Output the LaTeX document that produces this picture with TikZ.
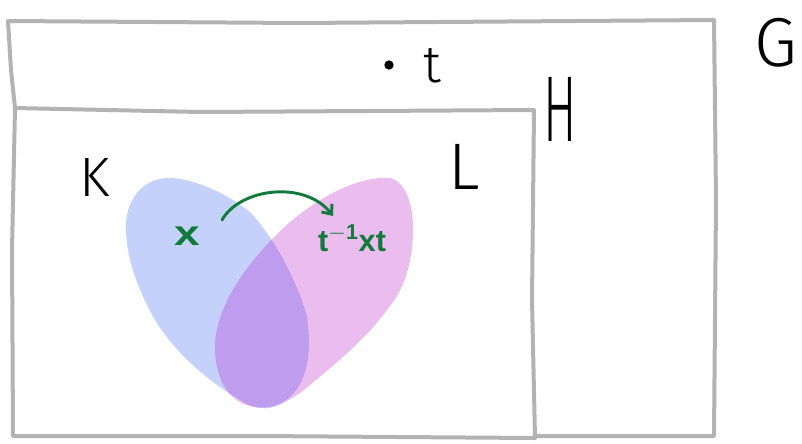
\documentclass[tikz,border=0pt]{standalone}
\usepackage{fontspec}
\setmainfont{Liberation Sans}
\newfontfamily\hand{Fira Sans Light}
\usetikzlibrary{arrows.meta}
\definecolor{framegray}{HTML}{B3B3B3}
\definecolor{blobblue}{HTML}{C4D2FB}
\definecolor{blobpink}{HTML}{EBBCEE}
\definecolor{blobmix}{HTML}{BF9DEE}
\definecolor{inkgreen}{HTML}{117A3A}
\tikzset{
  frame/.style={draw=framegray, line width=3pt, line join=round, line cap=round},
  biglabel/.style={font=\hand\fontsize{52}{52}\selectfont, inner sep=0pt, text=black},
  greenlabel/.style={font=\bfseries\fontsize{23}{23}\selectfont, text=inkgreen, inner sep=0pt},
  greenarrow/.style={draw=inkgreen, line width=2.2pt, line cap=round, -{Straight Barb[length=6pt,width=10pt]}}
}
\begin{document}
\begin{tikzpicture}[x=0.75pt,y=-0.75pt]
\useasboundingbox (0,0) rectangle (802,443);
% frames
\draw[frame] (15,108) -- (11,70) -- (8,21) -- (300,23) -- (714,20) -- (716,200) -- (714,436) -- (535,436);
\draw[frame] (15,108) -- (200,112) -- (534,110) -- (532,300) -- (535,438) -- (260,436) -- (13,436) -- (12,250) -- cycle;
% blobs
\def\blue{(169,178) .. controls (194,178) and (230,195) .. (251,213) .. controls (280,245) and (300,290) .. (307,317) .. controls (312,350) and (308,385) .. (286,400) .. controls (275,410) and (258,412) .. (240,400) .. controls (215,385) and (180,360) .. (155,320) .. controls (135,285) and (122,245) .. (127,215) .. controls (132,190) and (150,178) .. (169,178) -- cycle}
\def\pink{(389,178) .. controls (405,180) and (414,205) .. (413,233) .. controls (412,270) and (400,295) .. (389,307) .. controls (370,335) and (340,360) .. (310,385) .. controls (295,398) and (275,410) .. (256,407) .. controls (230,405) and (215,380) .. (215,347) .. controls (215,305) and (250,258) .. (290,222) .. controls (322,195) and (360,176) .. (389,178) -- cycle}
\fill[blobblue] \blue;
\fill[blobpink] \pink;
\begin{scope}
\clip \pink;
\fill[blobmix] \blue;
\end{scope}
% labels
\node[biglabel] (G) at (776,43) {G};
\node[biglabel, xscale=0.72, yscale=1.35] (H) at (560,109) {H};
\node[biglabel, scale=0.8] (K) at (95,177) {K};
\node[biglabel, scale=0.95] (L) at (464,167) {L};
\node[biglabel, scale=0.75] (t) at (432,66) {t};
\fill (389,65) circle[radius=3.5pt];
\node[greenlabel, xscale=1.5, yscale=1.15] (x) at (187,236) {x};
\node[greenlabel] (txt) at (352,238) {t$^{\mathbf{-1}}$xt};
\coordinate (a1) at (222,220);
\coordinate (a2) at (333,216);
\draw[greenarrow] (a1) .. controls (240,188) and (305,180) .. (a2);
\end{tikzpicture}
\end{document}
